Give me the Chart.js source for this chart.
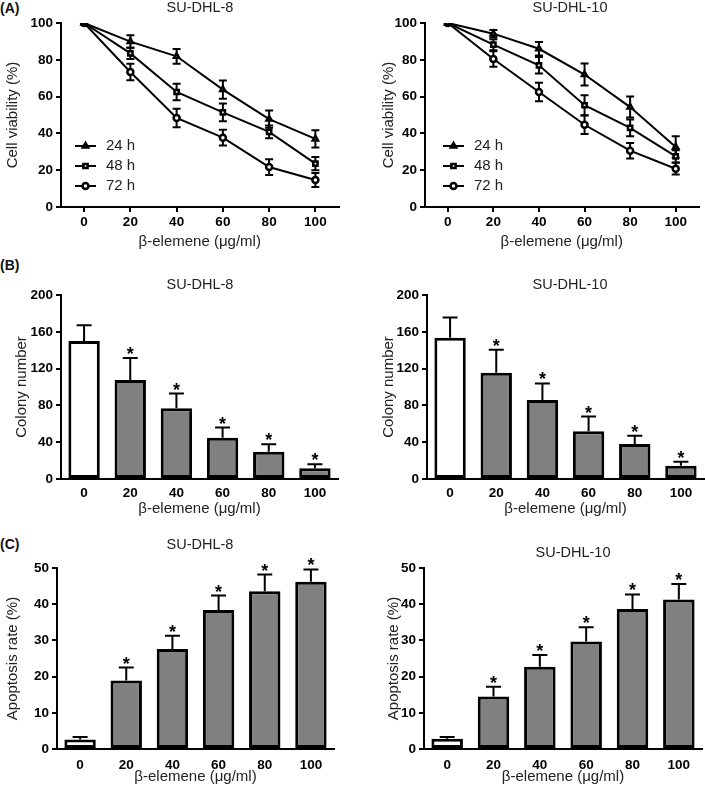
<!DOCTYPE html>
<html>
<head>
<meta charset="utf-8">
<script src="https://cdn.jsdelivr.net/npm/chart.js@4.4.1/dist/chart.umd.min.js"></script>
<style>
  body { margin: 0; background: #fff; width: 705px; height: 790px; position: relative; overflow: hidden; font-family: "Liberation Sans", Arial, sans-serif; }
  .box { position: absolute; }
  .tag { position: absolute; left: 0; font-weight: bold; font-size: 14px; line-height: 16px; color: #111; }
</style>
</head>
<body>
<div class="tag" style="top:0px">(A)</div>
<div class="tag" style="top:257px">(B)</div>
<div class="tag" style="top:536px">(C)</div>

<div class="box" style="left:0px;top:0px;width:345px;height:251px"><canvas id="viab8"></canvas></div>
<div class="box" style="left:376px;top:0px;width:329px;height:251px"><canvas id="viab10"></canvas></div>
<div class="box" style="left:9px;top:260px;width:336px;height:258px"><canvas id="col8"></canvas></div>
<div class="box" style="left:376px;top:260px;width:329px;height:258px"><canvas id="col10"></canvas></div>
<div class="box" style="left:0px;top:520px;width:345px;height:266px"><canvas id="apo8"></canvas></div>
<div class="box" style="left:381px;top:520px;width:324px;height:266px"><canvas id="apo10"></canvas></div>

<script>
// doses of beta-elemene (ug/ml)
const doses = ["0", "20", "40", "60", "80", "100"];
const timeLabels = ["24 h", "48 h", "72 h"];

// (A) cell viability (%), mean and SD
const viab8_24 = [100, 89.9, 81.9, 63.8, 47.8, 37.0];
const viab8_24Err = [0, 3.4, 4.0, 5.0, 4.7, 4.7];
const viab8_48 = [100, 83.5, 62.5, 51.4, 40.8, 23.6];
const viab8_48Err = [0, 3.0, 4.5, 4.8, 3.5, 3.6];
const viab8_72 = [100, 73.4, 48.4, 37.7, 21.7, 14.7];
const viab8_72Err = [0, 4.5, 5.0, 4.3, 4.3, 3.8];

const viab10_24 = [100, 94.2, 86.0, 72.0, 54.3, 32.6];
const viab10_24Err = [0, 2.0, 3.7, 6.0, 5.7, 5.8];
const viab10_48 = [100, 88.2, 77.0, 55.3, 43.0, 27.5];
const viab10_48Err = [0, 3.0, 4.5, 5.4, 4.5, 3.3];
const viab10_72 = [100, 80.4, 62.5, 44.7, 30.6, 20.8];
const viab10_72Err = [0, 4.2, 5.0, 5.0, 4.2, 3.2];

// (B) colony number
const colony8 = [150, 107.6, 76.8, 44.9, 29.7, 11.6];
const colony8Err = [17, 24, 16, 11, 8, 4.3];
const colony10 = [153.6, 115.6, 85.9, 51.8, 38, 14.5];
const colony10Err = [22, 25, 18, 16, 9, 4.3];

// (C) apoptosis rate (%)
const apop8 = [2.6, 18.9, 27.6, 38.4, 43.6, 46.2];
const apop8Err = [0.7, 3.6, 3.7, 4.0, 4.6, 3.4];
const apop10 = [2.8, 14.5, 22.7, 29.7, 38.7, 41.3];
const apop10Err = [0.5, 2.7, 3.3, 3.9, 4.0, 4.3];

// * = significant vs control
const signif = [false, true, true, true, true, true];

const FONT = '"Liberation Sans", Arial, sans-serif';
const TXT = '#222';

// error bars (+/- for lines, up only for bars) and asterisks
const errorBars = {
  id: 'errorBars',
  beforeDatasetsDraw(chart, args, opts) {
    if (chart.config.type === 'line') drawErrors(chart, opts);
  },
  afterDatasetsDraw(chart, args, opts) {
    if (chart.config.type === 'bar') drawErrors(chart, opts);
  }
};

function drawErrors(chart, opts) {
  const ctx = chart.ctx;
  const yScale = chart.scales.y;
  const isBar = chart.config.type === 'bar';
  const cw = opts.capWidth || 8;
  chart.data.datasets.forEach((ds, di) => {
    if (!ds.errors) return;
    const meta = chart.getDatasetMeta(di);
    ctx.save();
    ctx.strokeStyle = '#000';
    ctx.fillStyle = '#000';
    ctx.lineWidth = 2;
    meta.data.forEach((el, i) => {
      const v = ds.data[i], e = ds.errors[i];
      const x = el.x;
      const top = yScale.getPixelForValue(v + e);
      const bot = isBar ? el.y : yScale.getPixelForValue(v - e);
      if (e > 0) {
        ctx.beginPath();
        ctx.moveTo(x, bot);
        ctx.lineTo(x, top);
        ctx.moveTo(x - cw / 2, top);
        ctx.lineTo(x + cw / 2, top);
        if (!isBar) {
          ctx.moveTo(x - cw / 2, bot);
          ctx.lineTo(x + cw / 2, bot);
        }
        ctx.stroke();
      }
      if (ds.stars && ds.stars[i]) {
        ctx.font = 'bold 18px ' + FONT;
        ctx.textAlign = 'center';
        ctx.textBaseline = 'alphabetic';
        ctx.fillText('*', x, top + 2);
      }
    });
    ctx.restore();
  });
}

const panelTitle = {
  id: 'panelTitle',
  afterDraw(chart, args, opts) {
    if (!opts.text) return;
    const ctx = chart.ctx;
    ctx.save();
    ctx.font = '14.5px ' + FONT;
    ctx.fillStyle = TXT;
    ctx.textAlign = 'center';
    ctx.textBaseline = 'middle';
    ctx.fillText(opts.text, opts.x, opts.y);
    ctx.restore();
  }
};

// small legend inside the plot area, line + marker + label
const insideLegend = {
  id: 'insideLegend',
  afterDatasetsDraw(chart, args, opts) {
    if (opts.x === undefined) return;
    const ctx = chart.ctx;
    chart.data.datasets.forEach((ds, i) => {
      const y = opts.y + i * opts.gap;
      ctx.save();
      ctx.strokeStyle = '#000';
      ctx.lineWidth = 2;
      ctx.beginPath();
      ctx.moveTo(opts.x, y);
      ctx.lineTo(opts.x + opts.len, y);
      ctx.stroke();
      ctx.fillStyle = '#fff';
      ctx.lineWidth = 2.5;
      Chart.helpers.drawPoint(ctx, { pointStyle: ds.pointStyle, radius: 3, borderWidth: 2.5, rotation: 0 }, opts.x + opts.len / 2, y);
      ctx.font = '15px ' + FONT;
      ctx.fillStyle = TXT;
      ctx.textAlign = 'left';
      ctx.textBaseline = 'middle';
      ctx.fillText(ds.label, opts.x + opts.len + 10, y);
      ctx.restore();
    });
  }
};

Chart.register(errorBars, panelTitle, insideLegend);

function axes(yMax, yStep, yTitle, L, isLine) {
  return {
    x: {
      type: 'category',
      offset: true,
      grid: isLine
        ? { display: true, drawOnChartArea: false, drawTicks: true, tickLength: 5, color: '#000', lineWidth: 2, offset: false }
        : { display: false, drawTicks: false },
      border: { display: true, color: '#000', width: 2 },
      ticks: { color: '#000', font: { family: FONT, size: 13.5, weight: 'bold' }, padding: L.xPad },
      title: { display: true, text: 'β-elemene (μg/ml)', color: TXT, font: { family: FONT, size: 15 }, padding: { top: 0, bottom: 0 } },
      afterFit: s => { s.height = L.xHeight; }
    },
    y: {
      min: 0,
      max: yMax,
      ticks: { stepSize: yStep, color: '#000', font: { family: FONT, size: 13.5, weight: 'bold' }, padding: 3 },
      grid: { display: true, drawOnChartArea: false, drawTicks: true, tickLength: 5, color: '#000', lineWidth: 2 },
      border: { display: true, color: '#000', width: 2 },
      title: { display: true, text: yTitle, color: TXT, font: { family: FONT, size: 15 }, padding: { top: 4, bottom: 0 } },
      afterFit: s => { s.width = L.yWidth; }
    }
  };
}

function viabilityChart(id, title, s24, e24, s48, e48, s72, e72, L) {
  const series = [[s24, e24, 'triangle'], [s48, e48, 'rect'], [s72, e72, 'circle']];
  new Chart(document.getElementById(id), {
    type: 'line',
    data: {
      labels: doses,
      datasets: series.map((s, i) => ({
        label: timeLabels[i],
        data: s[0],
        errors: s[1],
        pointStyle: s[2],
        borderColor: '#000',
        borderWidth: 2,
        pointRadius: 3,
        pointBorderWidth: 2.5,
        pointBorderColor: '#000',
        pointBackgroundColor: '#fff',
        tension: 0
      }))
    },
    options: {
      responsive: true,
      maintainAspectRatio: false,
      animation: false,
      layout: { padding: { top: L.padTop, right: L.padRight, left: 0, bottom: 0 } },
      plugins: {
        legend: { display: false },
        tooltip: { enabled: false },
        errorBars: { capWidth: 8 },
        panelTitle: { text: title, x: L.tx, y: L.ty },
        insideLegend: { x: L.lx, y: L.ly, gap: 20, len: 21 }
      },
      scales: axes(100, 20, 'Cell viability (%)', L, true)
    }
  });
}

function barChart(id, title, values, errs, yMax, yStep, yTitle, L) {
  new Chart(document.getElementById(id), {
    type: 'bar',
    data: {
      labels: doses,
      datasets: [{
        data: values,
        errors: errs,
        stars: signif,
        backgroundColor: c => c.dataIndex === 0 ? '#ffffff' : '#808080',
        borderColor: '#000',
        borderWidth: 3,
        borderSkipped: false,
        barPercentage: 0.68,
        categoryPercentage: 1
      }]
    },
    options: {
      responsive: true,
      maintainAspectRatio: false,
      animation: false,
      layout: { padding: { top: L.padTop, right: L.padRight, left: 0, bottom: 0 } },
      plugins: {
        legend: { display: false },
        tooltip: { enabled: false },
        errorBars: { capWidth: 15 },
        panelTitle: { text: title, x: L.tx, y: L.ty }
      },
      scales: axes(yMax, yStep, yTitle, L, false)
    }
  });
}

viabilityChart('viab8', 'SU-DHL-8', viab8_24, viab8_24Err, viab8_48, viab8_48Err, viab8_72, viab8_72Err,
  { yWidth: 61, xHeight: 44, padTop: 23, padRight: 6, xPad: 2, tx: 200, ty: 8, lx: 75, ly: 146 });
viabilityChart('viab10', 'SU-DHL-10', viab10_24, viab10_24Err, viab10_48, viab10_48Err, viab10_72, viab10_72Err,
  { yWidth: 49, xHeight: 44, padTop: 23, padRight: 1, xPad: 2, tx: 194, ty: 8, lx: 67, ly: 146 });

barChart('col8', 'SU-DHL-8', colony8, colony8Err, 200, 40, 'Colony number',
  { yWidth: 52, xHeight: 39, padTop: 35, padRight: 7, xPad: 6, tx: 191, ty: 25 });
barChart('col10', 'SU-DHL-10', colony10, colony10Err, 200, 40, 'Colony number',
  { yWidth: 51, xHeight: 39, padTop: 35, padRight: 1, xPad: 6, tx: 194, ty: 25 });

barChart('apo8', 'SU-DHL-8', apop8, apop8Err, 50, 10, 'Apoptosis rate (%)',
  { yWidth: 57, xHeight: 37, padTop: 48, padRight: 11, xPad: 8, tx: 200, ty: 25 });
barChart('apo10', 'SU-DHL-10', apop10, apop10Err, 50, 10, 'Apoptosis rate (%)',
  { yWidth: 43, xHeight: 37, padTop: 48, padRight: 3, xPad: 8, tx: 192, ty: 33 });
</script>
</body>
</html>
